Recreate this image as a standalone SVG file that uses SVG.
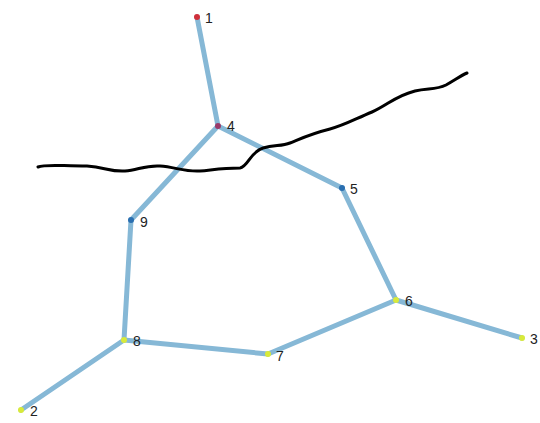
<svg xmlns="http://www.w3.org/2000/svg" width="540" height="423" viewBox="0 0 540 423">
<style>
.e{stroke:#86b8d6;stroke-width:5;stroke-linecap:round;fill:none}
.l{font-family:"Liberation Sans",Arial,sans-serif;font-size:14px;fill:#222}
.r{fill:#d0303a}.p{fill:#9a3a6a}.b{fill:#2a6fb0}.y{fill:#d8ea3a}
</style>
<rect width="540" height="423" fill="#fff"/>
<g id="connectors">
<line class="e" x1="197" y1="17" x2="218" y2="126"/>
<line class="e" x1="218" y1="126" x2="342" y2="188"/>
<line class="e" x1="218" y1="126" x2="131" y2="220"/>
<line class="e" x1="131" y1="220" x2="124" y2="340"/>
<line class="e" x1="342" y1="188" x2="396" y2="300"/>
<line class="e" x1="396" y1="300" x2="522" y2="338"/>
<line class="e" x1="396" y1="300" x2="268" y2="354"/>
<line class="e" x1="268" y1="354" x2="124" y2="340"/>
<line class="e" x1="124" y1="340" x2="21" y2="410"/>
</g>
<g id="n1"><circle class="r" cx="197" cy="17" r="3"/><text class="l" x="205" y="23">1</text></g>
<g id="n2"><circle class="y" cx="21" cy="410" r="3"/><text class="l" x="30" y="416">2</text></g>
<g id="n3"><circle class="y" cx="522" cy="338" r="3"/><text class="l" x="530" y="344">3</text></g>
<g id="n4"><circle class="p" cx="218" cy="126" r="3"/><text class="l" x="227" y="131">4</text></g>
<g id="n5"><circle class="b" cx="342" cy="188" r="3"/><text class="l" x="350" y="194">5</text></g>
<g id="n6"><circle class="y" cx="396" cy="300" r="3"/><text class="l" x="405" y="306">6</text></g>
<g id="n7"><circle class="y" cx="268" cy="354" r="3"/><text class="l" x="276" y="361">7</text></g>
<g id="n8"><circle class="y" cx="124" cy="340" r="3"/><text class="l" x="133" y="346">8</text></g>
<g id="n9"><circle class="b" cx="131" cy="220" r="3"/><text class="l" x="140" y="227">9</text></g>
<path d="M38,167 C45,164 60,166 87,166 C105,167 110,172 125,171 C138,170 145,165 160,166 C175,167 185,172 200,171 C212,170 222,168 240,168 C248,167 250,152 263,148 C275,145 282,146 290,143 C300,139 310,134 330,129 C345,125 355,119 372,112 C388,105 395,96 415,91 C428,88 436,90 446,85 C455,80 460,76 467,73" fill="none" stroke="#000" stroke-width="3" stroke-linecap="round"/>
</svg>
